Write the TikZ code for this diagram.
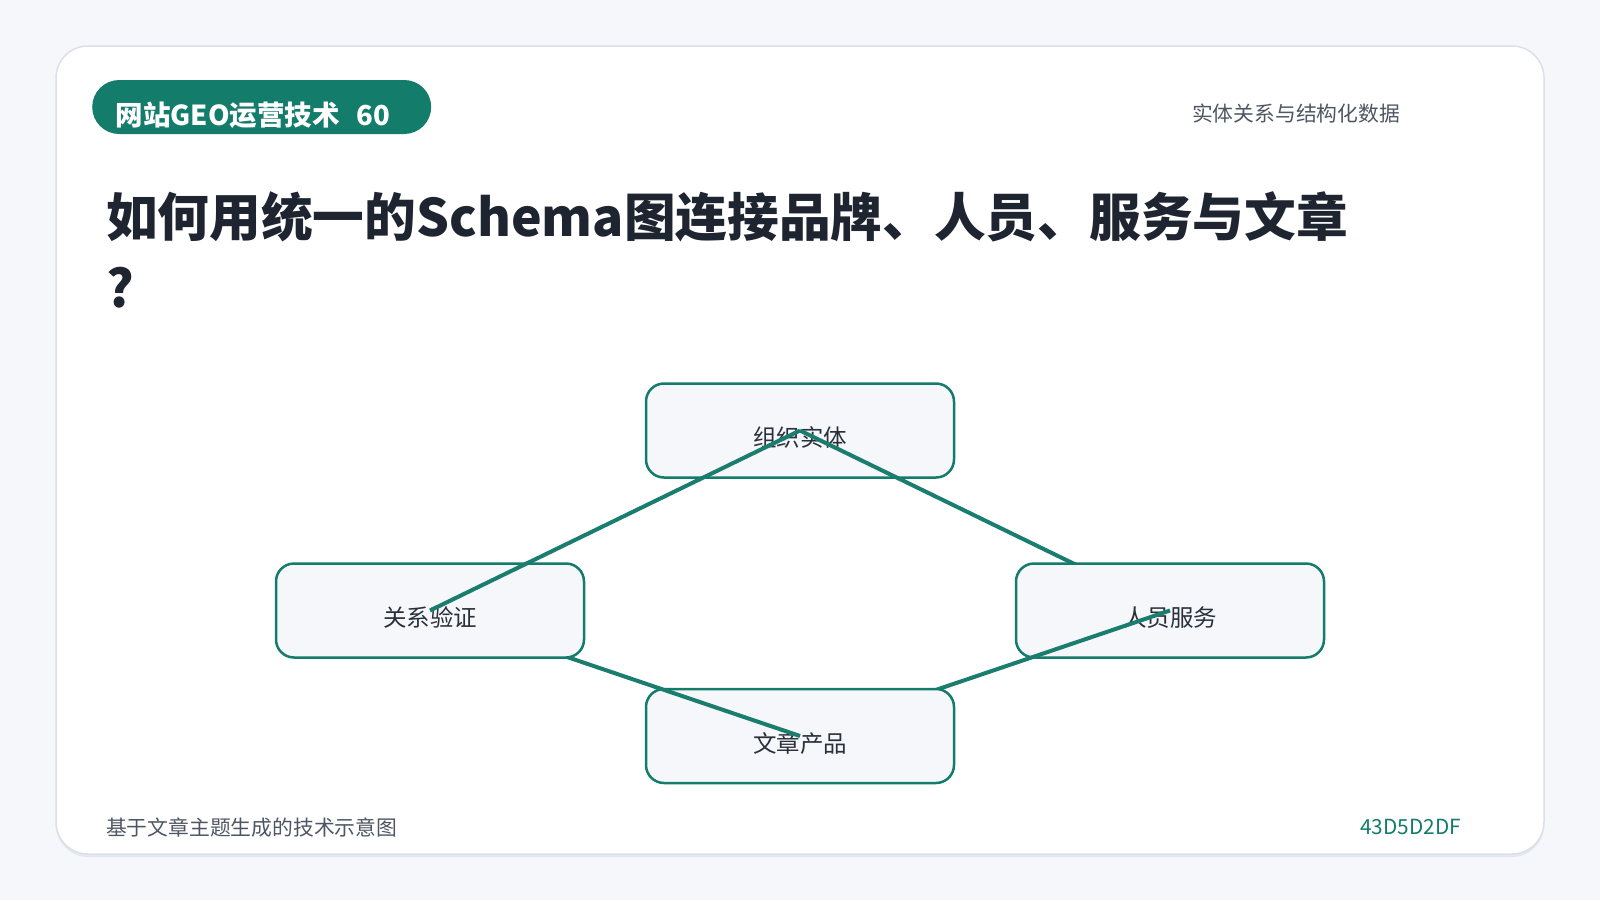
\documentclass[tikz,border=0pt]{standalone}
\usepackage{fontspec}
\setmainfont{Noto Sans CJK SC}
\definecolor{pagebg}{HTML}{F5F7FA}
\definecolor{cardline}{HTML}{DCE1E8}
\definecolor{cardshadow}{HTML}{E3E7EE}
\definecolor{teal}{HTML}{137C6B}
\definecolor{edgec}{HTML}{1A7D6E}
\definecolor{titlec}{HTML}{1E2430}
\definecolor{graytext}{HTML}{4F5663}
\definecolor{nodetext}{HTML}{2A303B}
\definecolor{nodefill}{HTML}{F5F7FA}
\pgfdeclarelayer{L1}\pgfdeclarelayer{L2}\pgfdeclarelayer{L3}\pgfdeclarelayer{L4}
\pgfdeclarelayer{L5}\pgfdeclarelayer{L6}\pgfdeclarelayer{L7}\pgfdeclarelayer{L8}
\pgfsetlayers{main,L1,L2,L3,L4,L5,L6,L7,L8}
\tikzset{
  entity/.style={draw=teal, line width=2.5pt, fill=nodefill, rounded corners=18pt,
    minimum width=308pt, minimum height=94pt, text=nodetext,
    font=\fontsize{23.5}{28}\selectfont, text height=32pt, text depth=0pt},
  edge/.style={draw=edgec, line width=4pt},
  plain/.style={inner sep=0pt, outer sep=0pt}
}
\begin{document}
\begin{tikzpicture}[x=1pt,y=-1pt]
\useasboundingbox (0,0) rectangle (1600,900);
\fill[pagebg] (0,0) rectangle (1600,900);
\fill[cardshadow, rounded corners=32pt] (56,49) rectangle (1544,857);
\filldraw[fill=white, draw=cardline, line width=1.5pt, rounded corners=32pt] (56,46) rectangle (1544,854);

\node (badge) [fill=teal, rounded corners=27pt, minimum width=339pt, minimum height=54pt,
  anchor=west, text width=300pt, inner xsep=0pt, align=left, text=white,
  text height=36pt, text depth=0pt,
  font=\bfseries\fontsize{27.5}{30}\selectfont] at (92,107) {\hspace*{4pt}网站GEO运营技术\hspace{0.6em}60};

\node (topic) [plain, anchor=base east, text=graytext, font=\fontsize{20.8}{24}\selectfont] at (1400,121) {实体关系与结构化数据};

\node (title1) [plain, anchor=base west, text=titlec, font=\bfseries\fontsize{51.7}{60}\selectfont] at (106,236) {如何用统一的Schema图连接品牌、人员、服务与文章};
\node (title2) [plain, anchor=base west, text=titlec, font=\bfseries\fontsize{51.7}{60}\selectfont] at (106,307) {?};

\node (foot) [plain, anchor=base west, text=graytext, font=\fontsize{20.8}{24}\selectfont] at (106,835) {基于文章主题生成的技术示意图};
\node (code) [plain, anchor=base east, text=teal, font=\fontsize{20.8}{24}\selectfont] at (1461,834) {43D5D2DF};

\begin{pgfonlayer}{L1}
\node (org) [entity] at (800,430.5) {组织实体};
\end{pgfonlayer}
\begin{pgfonlayer}{L3}
\node (svc) [entity] at (1170,610.5) {人员服务};
\end{pgfonlayer}
\begin{pgfonlayer}{L5}
\node (art) [entity] at (800,736) {文章产品};
\end{pgfonlayer}
\begin{pgfonlayer}{L7}
\node (rel) [entity] at (430,610.5) {关系验证};
\end{pgfonlayer}

\begin{pgfonlayer}{L2}
\draw[edge] (org.center) -- (svc.center);
\end{pgfonlayer}
\begin{pgfonlayer}{L4}
\draw[edge] (svc.center) -- (art.center);
\end{pgfonlayer}
\begin{pgfonlayer}{L6}
\draw[edge] (rel.center) -- (art.center);
\end{pgfonlayer}
\begin{pgfonlayer}{L8}
\draw[edge] (org.center) -- (rel.center);
\end{pgfonlayer}
\end{tikzpicture}
\end{document}
